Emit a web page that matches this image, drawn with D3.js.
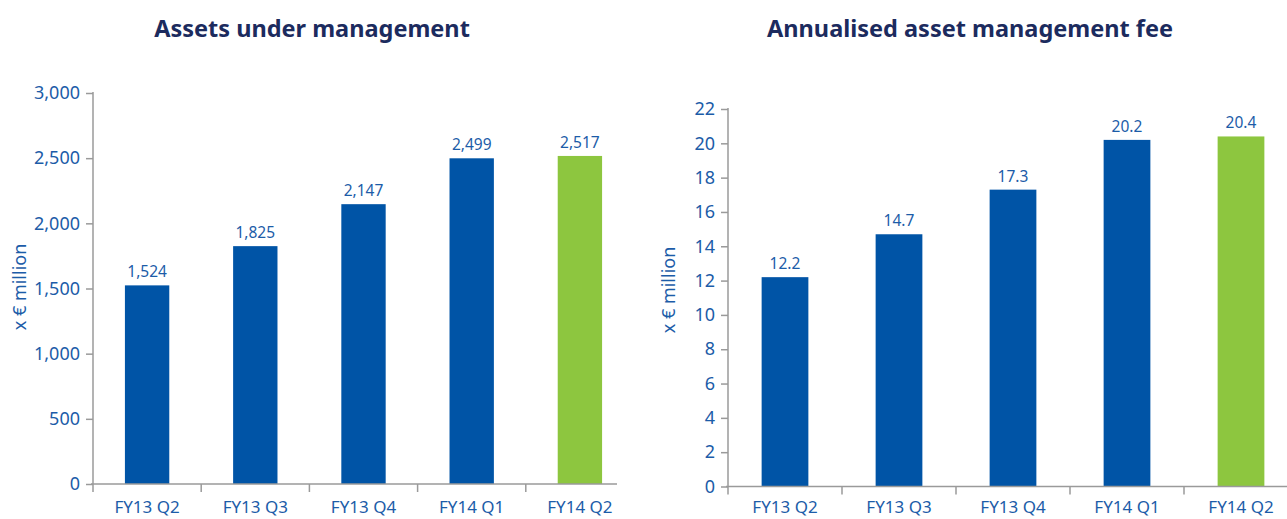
<!DOCTYPE html>
<html>
<head>
<meta charset="utf-8">
<script src="https://cdn.jsdelivr.net/npm/d3@7"></script>
<style>
  body { margin: 0; background: #fff; }
  svg { display: block; font-family: "Noto Sans", sans-serif; }
</style>
</head>
<body>
<script>
// dati
var quarters = ["FY13 Q2", "FY13 Q3", "FY13 Q4", "FY14 Q1", "FY14 Q2"];
var aumValues = [1524, 1825, 2147, 2499, 2517];
var feeValues = [12.2, 14.7, 17.3, 20.2, 20.4];
var aumTicks = [0, 500, 1000, 1500, 2000, 2500, 3000];
var feeTicks = [0, 2, 4, 6, 8, 10, 12, 14, 16, 18, 20, 22];

var w = 1287, h = 519;
var blue = "#0054a6", green = "#8dc63f", textBlue = "#1c5ca8", navy = "#1c2b5e", grey = "#9a9a9a";

var svg = d3.select("body").append("svg")
    .attr("width", w)
    .attr("height", h);

function plotChart(cfg) {
    var x = d3.scaleBand().domain(quarters).range([cfg.x0, cfg.x1]).paddingInner(0.59).paddingOuter(0.295);
    var y = d3.scaleLinear().domain([0, d3.max(cfg.ticks)]).range([cfg.y0, cfg.y1]);
    var g = svg.append("g");

    // titolo
    g.append("text")
        .attr("x", cfg.titleX).attr("y", 37)
        .attr("text-anchor", "middle")
        .attr("font-size", 23.5).attr("font-weight", "bold")
        .attr("fill", navy)
        .text(cfg.title);

    // asse y
    var yAxis = g.append("g")
        .attr("transform", "translate(" + cfg.x0 + ",0)")
        .call(d3.axisLeft(y).tickValues(cfg.ticks).tickFormat(cfg.fmt).tickSize(7).tickPadding(6));
    yAxis.select(".domain").attr("stroke", grey).attr("stroke-width", 1.5).attr("d", "M0," + cfg.y0 + "V" + (cfg.y1 - 1));
    yAxis.selectAll(".tick line").attr("stroke", grey).attr("stroke-width", 1.5);
    yAxis.selectAll(".tick text").attr("fill", textBlue).attr("font-size", 18).attr("font-family", "Noto Sans");

    // barre
    g.selectAll("rect").data(cfg.values).enter().append("rect")
        .attr("x", function(d, i) { return x(quarters[i]); })
        .attr("y", function(d) { return y(d); })
        .attr("width", x.bandwidth())
        .attr("height", function(d) { return cfg.y0 - y(d); })
        .attr("fill", function(d, i) { return i === quarters.length - 1 ? green : blue; });

    // etichette valori
    g.selectAll(".val").data(cfg.values).enter().append("text")
        .attr("class", "val")
        .attr("x", function(d, i) { return x(quarters[i]) + x.bandwidth() / 2; })
        .attr("y", function(d) { return y(d) - 8; })
        .attr("text-anchor", "middle")
        .attr("font-size", 15.5)
        .attr("fill", textBlue)
        .text(cfg.labelFmt);

    // asse x
    g.append("line")
        .attr("x1", cfg.x0 - 2).attr("x2", cfg.xEnd)
        .attr("y1", cfg.y0).attr("y2", cfg.y0)
        .attr("stroke", grey).attr("stroke-width", 1.5);
    var step = x.step();
    quarters.forEach(function(q, i) {
        var tx = x(q) - step * 0.295;
        g.append("line")
            .attr("x1", tx).attr("x2", tx)
            .attr("y1", cfg.y0).attr("y2", cfg.y0 + 8)
            .attr("stroke", grey).attr("stroke-width", 1.5);
        g.append("text")
            .attr("x", x(q) + x.bandwidth() / 2)
            .attr("y", cfg.labelY)
            .attr("text-anchor", "middle")
            .attr("font-size", 17)
            .attr("fill", textBlue)
            .text(q);
    });

    // etichetta asse y
    g.append("text")
        .attr("transform", "translate(" + cfg.yLabelX + "," + cfg.yLabelY + ") rotate(-90)")
        .attr("text-anchor", "middle")
        .attr("font-size", 18)
        .attr("fill", textBlue)
        .text("x € million");
}

plotChart({
    title: "Assets under management", titleX: 312,
    values: aumValues, ticks: aumTicks,
    fmt: d3.format(","), labelFmt: d3.format(","),
    x0: 93, x1: 634, xEnd: 617, y0: 484, y1: 93,
    labelY: 513, yLabelX: 26, yLabelY: 287
});

plotChart({
    title: "Annualised asset management fee", titleX: 970,
    values: feeValues, ticks: feeTicks,
    fmt: d3.format("d"), labelFmt: d3.format(".1f"),
    x0: 728, x1: 1298, xEnd: 1287, y0: 486.5, y1: 109,
    labelY: 513, yLabelX: 675, yLabelY: 290
});
</script>
</body>
</html>
